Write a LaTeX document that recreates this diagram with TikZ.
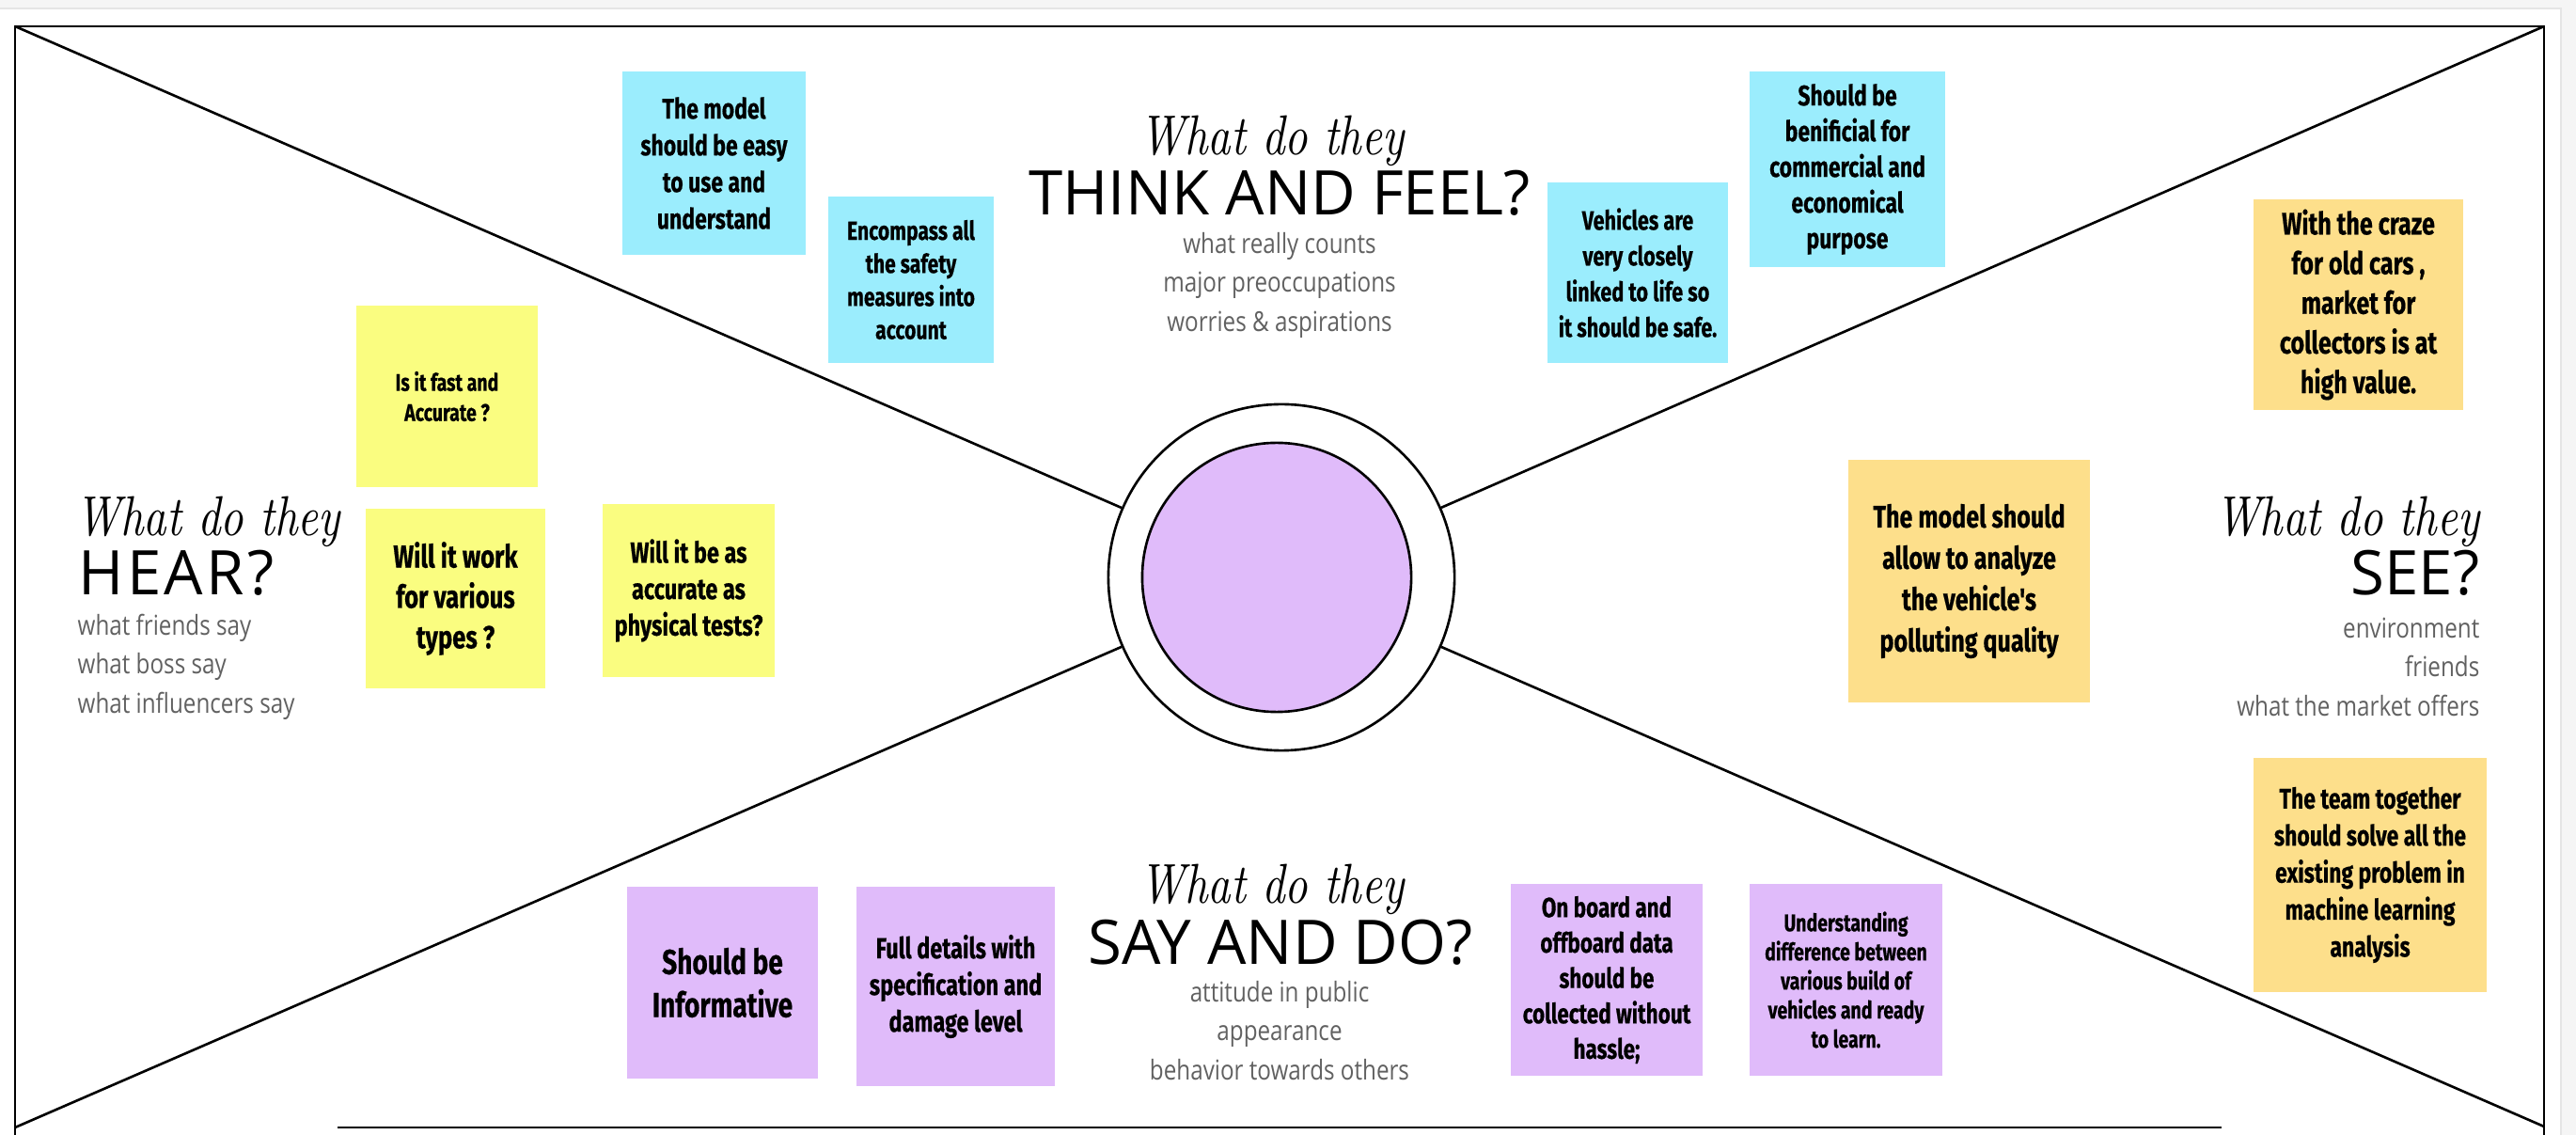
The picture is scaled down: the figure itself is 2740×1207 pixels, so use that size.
\documentclass[tikz,border=0pt]{standalone}
\usepackage{fontspec}
\newfontfamily\titlefont{Open Sans}
\newfontfamily\hintfont{Open Sans}[FakeStretch=0.83]
\newfontfamily\cursivefont{lmroman10-italic.otf}[FakeStretch=0.8]
\newfontfamily\notefont{Fira Sans}[FakeStretch=0.76, BoldFeatures={FakeBold=0.5}]
\definecolor{noteblue}{RGB}{155,237,253}
\definecolor{noteyellow}{RGB}{250,253,128}
\definecolor{noteorange}{RGB}{253,223,139}
\definecolor{notepurple}{RGB}{224,187,250}
\begin{document}
\begin{tikzpicture}[x=0.01cm, y=-0.01cm,
  note/.style 2 args={font=\notefont\bfseries\fontsize{#1}{#2}\selectfont, align=center, inner sep=0pt, text=black},
  ask/.style={font=\cursivefont\fontsize{17}{19}\selectfont, inner sep=0pt},
  head/.style={font=\titlefont\fontsize{18.6}{20}\selectfont, inner sep=0pt},
  hint/.style={font=\hintfont\fontsize{8.3}{11.8}\selectfont, text=black!62, inner sep=0pt},
  spoke/.style={line width=0.75pt}]
	\useasboundingbox (0,0) rectangle (2740,1207);
	% page edge
	\fill[black!4] (0,0) rectangle (2740,10);
	\fill[black!4] (2724,10) rectangle (2740,1207);
	\draw[black!10, line width=0.6pt] (0,9) -- (2724,9) -- (2724,1207);
	% frame
	\coordinate (tl) at (16,28);
	\coordinate (tr) at (2706,28);
	\coordinate (bl) at (16,1199);
	\coordinate (br) at (2706,1198);
	\draw[line width=0.5pt] (16,1207) -- (tl) -- (tr) -- (2706,1207);
	\draw[line width=0.6pt] (359,1199) -- (2363,1199);
	% centre
	\node[draw, circle, spoke, fill=white, minimum size=3.68cm, inner sep=0pt] (hub) at (1363,614) {};
	\node[draw, circle, spoke, fill=notepurple, minimum size=2.86cm, inner sep=0pt] (core) at (1358,614) {};
	\draw[spoke] (tl) -- (hub);
	\draw[spoke] (tr) -- (hub);
	\draw[spoke] (bl) -- (hub);
	\draw[spoke] (br) -- (hub);
	% Think and feel
	\node[ask, anchor=base] (tfq) at (1353,165) {What do they};
	\node[head, anchor=base] (tft) at (1361,229) {THINK AND FEEL?};
	\node[hint, align=center] (tfh) at (1361,303) {what really counts\\major preoccupations\\worries \& aspirations};
	\fill[fill=noteblue] (662,76) rectangle (857,271) node[midway, note={8.6}{11.1}] (tf1) {The model\\should be easy\\to use and\\understand};
	\fill[fill=noteblue] (881,209) rectangle (1057,386) node[midway, note={7.9}{10}] (tf2) {Encompass all\\the safety\\measures into\\account};
	\fill[fill=noteblue] (1646,194) rectangle (1838,386) node[midway, note={8.1}{10.8}] (tf3) {Vehicles are\\very closely\\linked to life so\\it should be safe.};
	\fill[fill=noteblue] (1861,76) rectangle (2069,284) node[midway, note={8.6}{10.8}] (tf4) {Should be\\benificial for\\commercial and\\economical\\purpose};
	% Hear
	\node[ask, anchor=base west] (hrq) at (80,570) {What do they};
	\node[head, anchor=base west, font=\titlefont\fontsize{18.6}{20}\selectfont\addfontfeature{LetterSpace=5}] (hrt) at (83,633) {HEAR?};
	\node[hint, align=left, anchor=west] (hrh) at (82,709) {what friends say\\what boss say\\what influencers say};
	\fill[fill=noteyellow] (379,325) rectangle (572,518) node[midway, note={7.3}{9.1}] (hr1) {Is it fast and\\Accurate ?};
	\fill[fill=noteyellow] (389,541) rectangle (580,732) node[midway, note={9.6}{12.2}] (hr2) {Will it work\\for various\\types ?};
	\fill[fill=noteyellow] (641,536) rectangle (824,720) node[midway, note={8.8}{11}] (hr3) {Will it be as\\accurate as\\physical tests?};
	% See
	\node[ask, anchor=base east] (seq) at (2638,570) {What do they};
	\node[head, anchor=base east] (set) at (2638,633) {SEE?};
	\node[hint, align=right, anchor=east] (seh) at (2638,709) {environment\\friends\\what the market offers};
	\fill[fill=noteorange] (2397,212) rectangle (2620,436) node[midway, note={9.4}{12}] (se1) {With the craze\\for old cars ,\\market for\\collectors is at\\high value.};
	\fill[fill=noteorange] (1966,489) rectangle (2223,747) node[midway, note={9.4}{12.5}] (se2) {The model should\\allow to analyze\\the vehicle's\\polluting quality};
	\fill[fill=noteorange] (2397,806) rectangle (2645,1055) node[midway, note={8.6}{11.2}] (se3) {The team together\\should solve all the\\existing problem in\\machine learning\\analysis};
	% Say and do
	\node[ask, anchor=base] (sdq) at (1353,960) {What do they};
	\node[head, anchor=base] (sdt) at (1362,1025) {SAY AND DO?};
	\node[hint, align=center] (sdh) at (1361,1096) {attitude in public\\appearance\\behavior towards others};
	\fill[fill=notepurple] (667,943) rectangle (870,1147) node[midway, note={10.5}{13}] (sd1) {Should be\\Informative};
	\fill[fill=notepurple] (911,943) rectangle (1122,1155) node[midway, note={8.8}{11.1}] (sd2) {Full details with\\specification and\\damage level};
	\fill[fill=notepurple] (1607,940) rectangle (1811,1144) node[midway, note={8.4}{10.7}] (sd3) {On board and\\offboard data\\should be\\collected without\\hassle;};
	\fill[fill=notepurple] (1861,940) rectangle (2066,1144) node[midway, note={7.3}{8.8}] (sd4) {Understanding\\difference between\\various build of\\vehicles and ready\\to learn.};
\end{tikzpicture}
\end{document}
